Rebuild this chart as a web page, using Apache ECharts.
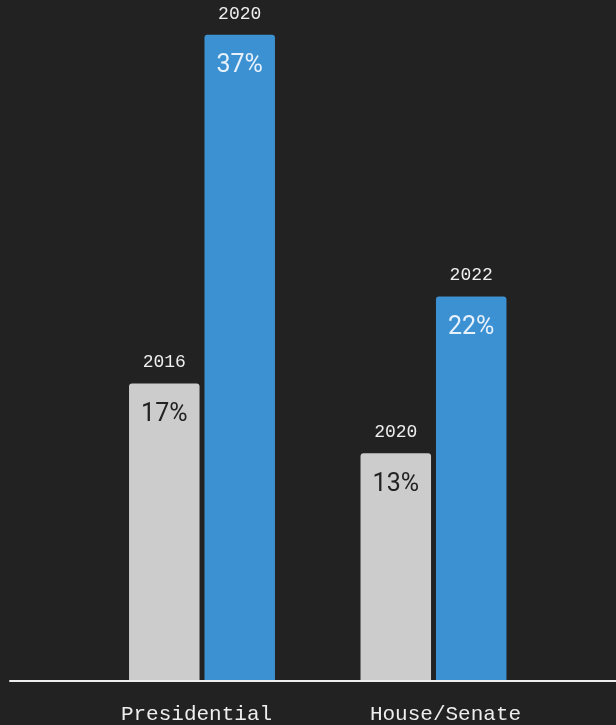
<!DOCTYPE html>
<html>
<head>
<meta charset="utf-8">
<script src="https://cdn.jsdelivr.net/npm/echarts@6/dist/echarts.min.js"></script>
<style>
  html, body { margin: 0; padding: 0; background: #222222; }
  #chart { width: 616px; height: 725px; }
</style>
</head>
<body>
<div id="chart"></div>
<script>
// Race categories along the x axis
const categories = ['Presidential', 'House/Senate'];
// Earlier election cycle per category
const earlierYears = ['2016', '2020'];
const earlierShare = [17, 13];
// Later election cycle per category
const laterYears = ['2020', '2022'];
const laterShare = [37, 22];

const MONO = '"Liberation Mono", "DejaVu Sans Mono", monospace';
const SANS = 'Roboto, "Noto Sans", sans-serif';

// Year sits above the bar, share sits just inside its top
function barLabel(years, pctColor) {
  return {
    show: true,
    position: 'insideTop',
    distance: 0,
    offset: [0, -46],
    formatter: p => '{yr|' + years[p.dataIndex] + '}\n{pc|' + p.value + '%}',
    rich: {
      yr: { fontFamily: MONO, fontSize: 18, color: '#eeeeee', lineHeight: 50, align: 'center' },
      pc: { fontFamily: SANS, fontSize: 25, color: pctColor, lineHeight: 54, align: 'center' }
    }
  };
}

const chart = echarts.init(document.getElementById('chart'), null, { renderer: 'canvas' });

chart.setOption({
  backgroundColor: '#222222',
  animation: false,
  grid: [
    { left: 86.25, right: 66.75, top: 0, bottom: 45 },   // bars
    { left: 10, right: 0, top: 0, bottom: 44 },          // baseline
    { left: 72, right: 46, top: 0, bottom: 45 }          // category names
  ],
  xAxis: [
    { type: 'category', gridIndex: 0, data: categories,
      axisLine: { show: false }, axisTick: { show: false }, axisLabel: { show: false } },
    { type: 'category', gridIndex: 1, data: categories,
      axisLine: { show: true, lineStyle: { color: '#eeeeee', width: 2 } },
      axisTick: { show: false }, axisLabel: { show: false } },
    { type: 'category', gridIndex: 2, data: categories,
      axisLine: { show: false }, axisTick: { show: false },
      axisLabel: { show: true, fontFamily: MONO, fontSize: 21, color: '#eeeeee', margin: 25 } }
  ],
  yAxis: [
    { type: 'value', gridIndex: 0, min: 0, max: 39, show: false },
    { type: 'value', gridIndex: 1, min: 0, max: 39, show: false },
    { type: 'value', gridIndex: 2, min: 0, max: 39, show: false }
  ],
  series: [
    {
      name: 'Earlier cycle', type: 'bar', xAxisIndex: 0, yAxisIndex: 0,
      data: earlierShare, barWidth: 70.5, barGap: '7%',
      itemStyle: { color: '#cccccc', borderRadius: [3, 3, 0, 0] },
      label: barLabel(earlierYears, '#222222'),
      emphasis: { disabled: true }, silent: true
    },
    {
      name: 'Later cycle', type: 'bar', xAxisIndex: 0, yAxisIndex: 0,
      data: laterShare, barWidth: 70.5, barGap: '7%',
      itemStyle: { color: '#3c91d2', borderRadius: [3, 3, 0, 0] },
      label: barLabel(laterYears, '#e6f1fb'),
      emphasis: { disabled: true }, silent: true
    }
  ]
});
</script>
</body>
</html>
